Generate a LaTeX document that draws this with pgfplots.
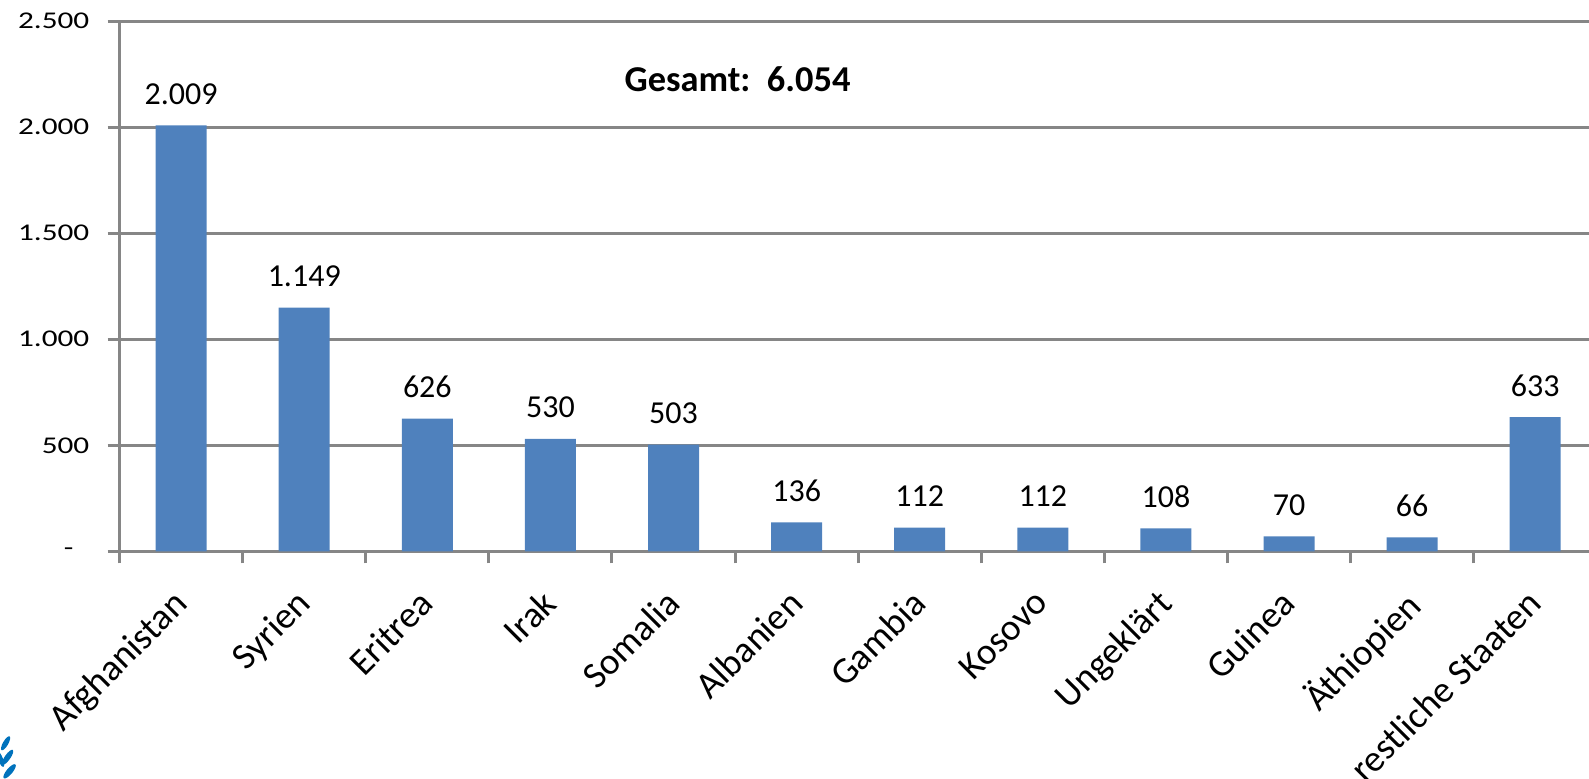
\documentclass[border=0pt]{standalone}
\usepackage{fontspec}
\setmainfont{Carlito}
\newfontfamily\widefont[FakeStretch=1.3]{Carlito}
\usepackage{pgfplots}
\pgfplotsset{compat=1.18}
\definecolor{barblue}{RGB}{79,129,189}
\definecolor{gridgray}{RGB}{134,134,134}
\definecolor{logoblue}{RGB}{0,114,188}
\begin{document}
\begin{tikzpicture}
\begin{axis}[
  scale only axis, width=734.7pt, height=265pt,
  xmin=-0.5, xmax=11.437, ymin=0, ymax=2500,
  axis x line*=bottom, axis y line*=left,
  axis line style={-, draw=gridgray, line width=1.5pt},
  ymajorgrids, grid style={gridgray, line width=1.5pt},
  tick align=outside, major tick length=6pt,
  tick style={gridgray, line width=1.5pt},
  ytick={0,500,1000,1500,2000,2500},
  yticklabels={-\hphantom{0},500,1.000,1.500,2.000,2.500},
  y tick label style={font=\widefont\fontsize{12}{14}\selectfont, anchor=east, inner sep=0pt, xshift=-9pt},
  xtick={-0.5,0.5,...,10.5}, xticklabels={},
  extra x ticks={0,1,...,11},
  extra x tick labels={Afghanistan,Syrien,Eritrea,Irak,Somalia,Albanien,Gambia,Kosovo,Ungeklärt,Guinea,Äthiopien,restliche Staaten},
  extra x tick style={major tick length=0pt, grid=none,
    tick label style={font=\fontsize{18.6}{22}\selectfont, inner sep=0pt, xshift=-5pt, yshift=-18pt, rotate=45, anchor=north east}},
  ybar, bar width=25.5pt,
  point meta=explicit symbolic,
  nodes near coords,
  every node near coord/.append style={font=\fontsize{16}{19}\selectfont, anchor=base, inner sep=0pt, yshift=10.5pt, text=black},
  clip=false,
]
\addplot[fill=barblue, draw=none] table[meta=label] {
x y label
0 2009 2.009
1 1149 1.149
2 626 626
3 530 530
4 503 503
5 136 136
6 112 112
7 112 112
8 108 108
9 70 70
10 66 66
11 633 633
};
\node[font=\bfseries\fontsize{18.2}{21}\selectfont] at (axis cs:4.52,2229) {Gesamt:\ \ 6.054};
\end{axis}
% fragment of a logo at the bottom-left corner
\begin{scope}[logoblue]
\fill[rotate around={-30:(-57pt,-96pt)}] (-57pt,-96pt) ellipse (1.3pt and 4pt);
\fill[rotate around={-35:(-56pt,-103pt)}] (-56pt,-103pt) ellipse (1.4pt and 4.5pt);
\fill[rotate around={-40:(-55pt,-110pt)}] (-55pt,-110pt) ellipse (1.5pt and 4.5pt);
\fill[rotate around={20:(-59.5pt,-104pt)}] (-59.5pt,-104pt) ellipse (1.2pt and 4pt);
\end{scope}
\pgfresetboundingbox
\useasboundingbox (-59.8pt,-113.35pt) rectangle (734.7pt,275.65pt);
\end{tikzpicture}
\end{document}
